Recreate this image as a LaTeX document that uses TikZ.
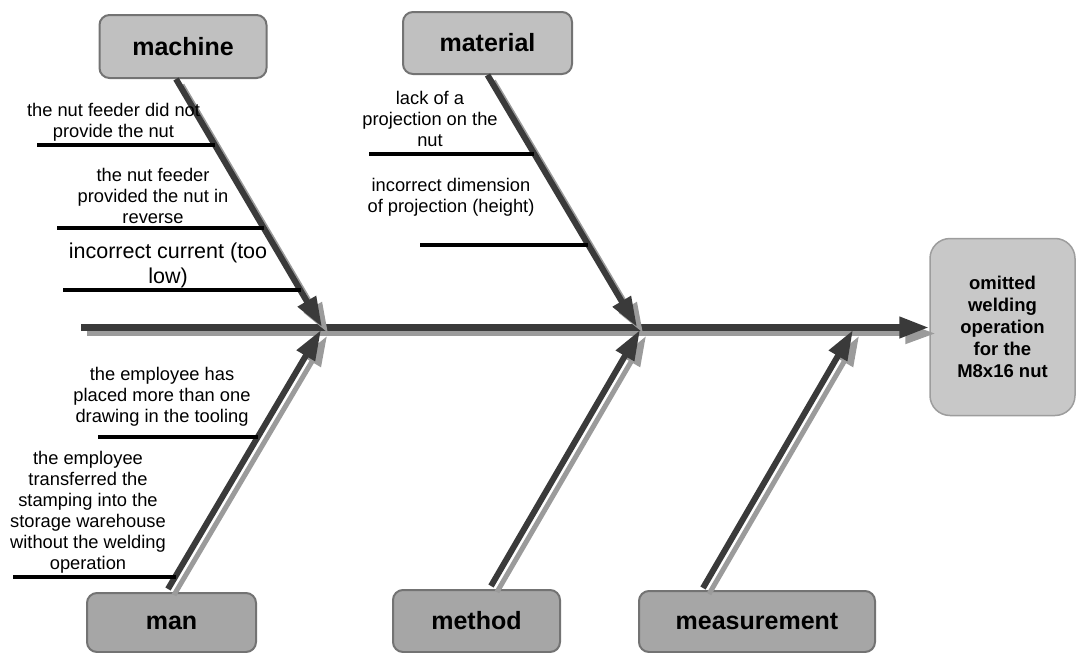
\documentclass[tikz,border=0pt]{standalone}
\usepackage{fontspec}
\setmainfont{Liberation Sans}
\usetikzlibrary{arrows.meta,calc}
\definecolor{bonedark}{HTML}{3A3A3A}
\definecolor{bonegray}{HTML}{9B9B9B}
\definecolor{boxedge}{HTML}{737373}
\definecolor{toplight}{HTML}{C0C0C0}
\definecolor{lowgray}{HTML}{A6A6A6}
\definecolor{effectgray}{HTML}{C8C8C8}
\tikzset{>={Triangle[length=30pt,width=20pt]}}
\tikzstyle{causebox}=[rectangle,draw=boxedge,fill=toplight,line width=2pt,rounded corners=10pt,font=\fontsize{25}{30}\selectfont\bfseries]
\tikzstyle{causeboxlow}=[causebox,fill=lowgray]
\tikzstyle{effectbox}=[rectangle,draw=boxedge!70,fill=effectgray,line width=1.5pt,rounded corners=20pt,align=center,font=\fontsize{18.5}{22}\selectfont\bfseries]
\tikzstyle{bone}=[->,draw=bonedark,fill=bonedark,line width=6pt]
\tikzstyle{boneshadow}=[->,draw=bonegray,fill=bonegray,line width=5pt,transform canvas={xshift=6pt,yshift=-6pt}]
\tikzstyle{twig}=[draw=black,line width=3.5pt]
\tikzstyle{note}=[align=center,inner sep=0pt,font=\fontsize{18.3}{21}\selectfont]
\tikzstyle{notebig}=[note,font=\fontsize{21.5}{25}\selectfont]

\begin{document}
\begin{tikzpicture}[x=1pt,y=-1pt]
	\useasboundingbox (0,0) rectangle (1076,653);

	% effect and the five causes
	\node[effectbox,minimum width=145,minimum height=177] (effect) at (1002.5,327) {omitted\\welding\\operation\\for the\\M8x16 nut};
	\node[causebox,minimum width=167,minimum height=63] (machine) at (183,46.5) {machine};
	\node[causebox,minimum width=169,minimum height=62] (material) at (487.5,43) {material};
	\node[causeboxlow,minimum width=169,minimum height=59] (man) at (171.5,622.5) {man};
	\node[causeboxlow,minimum width=167,minimum height=62] (method) at (476.5,621) {method};
	\node[causeboxlow,minimum width=236,minimum height=61] (measurement) at (757,621.5) {measurement};

	% spine
	\coordinate (tail) at (81,327.5);
	\draw[boneshadow,line width=5pt] (tail) -- (tail -| effect.west);
	\draw[bone,line width=7pt] (tail) -- (tail -| effect.west);

	% bones
	\coordinate (machS) at ([xshift=-7pt]machine.south);
	\coordinate (machT) at (322,327);
	\coordinate (matS) at (material.south);
	\coordinate (matT) at (637,327);
	\coordinate (manS) at ([xshift=-3.5pt,yshift=3pt]man.north);
	\coordinate (manT) at (321,330);
	\coordinate (methS) at ([xshift=14.5pt,yshift=3pt]method.north);
	\coordinate (methT) at (640,330);
	\coordinate (measS) at ([xshift=-54pt,yshift=2pt]measurement.north);
	\coordinate (measT) at (853,330);

	\draw[boneshadow] (machS) -- (machT);
	\draw[boneshadow] (matS) -- (matT);
	\draw[boneshadow] (manS) -- (manT);
	\draw[boneshadow] (methS) -- (methT);
	\draw[boneshadow] (measS) -- (measT);
	\draw[bone] (machS) -- (machT);
	\draw[bone] (matS) -- (matT);
	\draw[bone] (manS) -- (manT);
	\draw[bone] (methS) -- (methT);
	\draw[bone] (measS) -- (measT);

	% sub-causes
	\coordinate (m1) at ($(machS)!0.270!(machT)$);
	\coordinate (m2) at ($(machS)!0.605!(machT)$);
	\coordinate (m3) at ($(machS)!0.855!(machT)$);
	\coordinate (t1) at (37,145);
	\coordinate (t2) at (57,228);
	\coordinate (t3) at (63,290);
	\draw[twig] (t1) -- (t1 -| m1);
	\draw[twig] (t2) -- (t2 -| m2);
	\draw[twig] (t3) -- (t3 -| m3);

	\coordinate (a1) at ($(matS)!0.310!(matT)$);
	\coordinate (a2) at ($(matS)!0.672!(matT)$);
	\coordinate (t4) at (369,154);
	\coordinate (t5) at (420,245);
	\draw[twig] (t4) -- (t4 -| a1);
	\draw[twig] (t5) -- (t5 -| a2);

	\coordinate (p1) at ($(manS)!0.588!(manT)$);
	\coordinate (p2) at ($(manS)!0.050!(manT)$);
	\coordinate (t6) at (98,437);
	\coordinate (t7) at (13,577);
	\draw[twig] (t6) -- (t6 -| p1);
	\draw[twig] (t7) -- (t7 -| p2);

	% labels
	\node[note] (feedmiss) at (113.5,122) {the nut feeder did not\\provide the nut};
	\node[note] (feedrev) at (153,196) {the nut feeder\\provided the nut in\\reverse};
	\node[notebig] (current) at (168,265) {incorrect current (too\\low)};
	\node[note] (noproj) at (430,119) {lack of a\\projection on the\\nut};
	\node[note] (projdim) at (451,197) {incorrect dimension\\of projection (height)};
	\node[note] (twodraw) at (162,397) {the employee has\\placed more than one\\drawing in the tooling};
	\node[note] (noweld) at (88,512) {the employee\\transferred the\\stamping into the\\storage warehouse\\without the welding\\operation};
\end{tikzpicture}
\end{document}
